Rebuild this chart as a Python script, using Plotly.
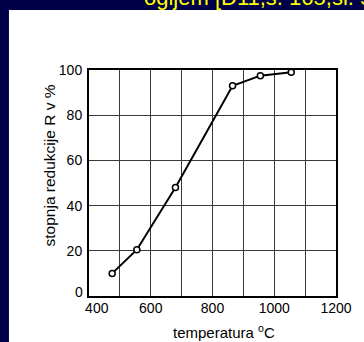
import plotly.graph_objects as go

temperature = [475, 555, 680, 865, 955, 1055]
reduction = [10, 20.5, 48, 93, 97.5, 99]
x_ticks = [400, 600, 800, 1000, 1200]
x_tick_text = ["\u00a0\u00a0\u00a0\u00a0400", "600", "800", "1000", "1200"]
y_ticks = [0, 20, 40, 60, 80, 100]
y_tick_text = ["", "20", "40", "60", "80", "100"]

W, H = 364, 342
L, R, T, B = 89, 339, 70, 296

def px(x):
    return (x - L) / (R - L)

def py(y):
    return (B - y) / (B - T)

fig = go.Figure()
fig.add_trace(go.Scatter(
    x=temperature, y=reduction, mode="lines+markers",
    line=dict(color="black", width=2),
    marker=dict(symbol="circle", size=6, color="white",
                line=dict(color="black", width=1.5)),
    showlegend=False, cliponaxis=False,
))

font = "Liberation Sans, Arial, sans-serif"
axis_common = dict(showline=True, mirror=True, linecolor="black", linewidth=2,
                   showgrid=True, gridcolor="#3a3a3a", gridwidth=1,
                   zeroline=False, ticks="",
                   tickfont=dict(family=font, size=14, color="black"))
fig.update_xaxes(range=[400, 1200], tickvals=x_ticks, ticktext=x_tick_text,
                 ticklabelstandoff=-2,
                 minor=dict(showgrid=True, dtick=100, gridcolor="#3a3a3a", gridwidth=1),
                 **axis_common)
fig.update_yaxes(range=[0, 100], tickvals=y_ticks, ticktext=y_tick_text,
                 ticklabelstandoff=2, **axis_common)

fig.add_shape(type="rect", xref="paper", yref="paper",
              x0=px(8), x1=px(W + 5), y0=py(10), y1=py(H + 5),
              fillcolor="white", line=dict(width=0), layer="below")

# y-axis "0" label, raised slightly so it clears the "400" label
fig.add_annotation(text=str(y_ticks[0]), xref="paper", yref="paper",
                   x=px(85), y=py(292), xanchor="right", yanchor="middle",
                   showarrow=False, font=dict(family=font, size=14, color="black"))
fig.add_annotation(text="stopnja redukcije R v %", textangle=-90,
                   xref="paper", yref="paper", x=px(49), y=py(165),
                   xanchor="center", yanchor="middle",
                   showarrow=False, font=dict(family=font, size=15.5, color="black"))
fig.add_annotation(text="temperatura <sup>o</sup>C",
                   xref="paper", yref="paper", x=px(226), y=py(331),
                   xanchor="center", yanchor="middle",
                   showarrow=False, font=dict(family=font, size=15, color="black"))
fig.add_annotation(text="ogljem [D11,s. 165,sl. 5.4]",
                   xref="paper", yref="paper", x=px(143), y=py(12),
                   xanchor="left", yanchor="bottom", showarrow=False,
                   font=dict(family=font, size=22, color="#ffff00"))

fig.update_layout(width=W, height=H, margin=dict(l=L, r=W - R, t=T, b=H - B),
                  paper_bgcolor="#000048", plot_bgcolor="white")
fig.write_html("out.html")
